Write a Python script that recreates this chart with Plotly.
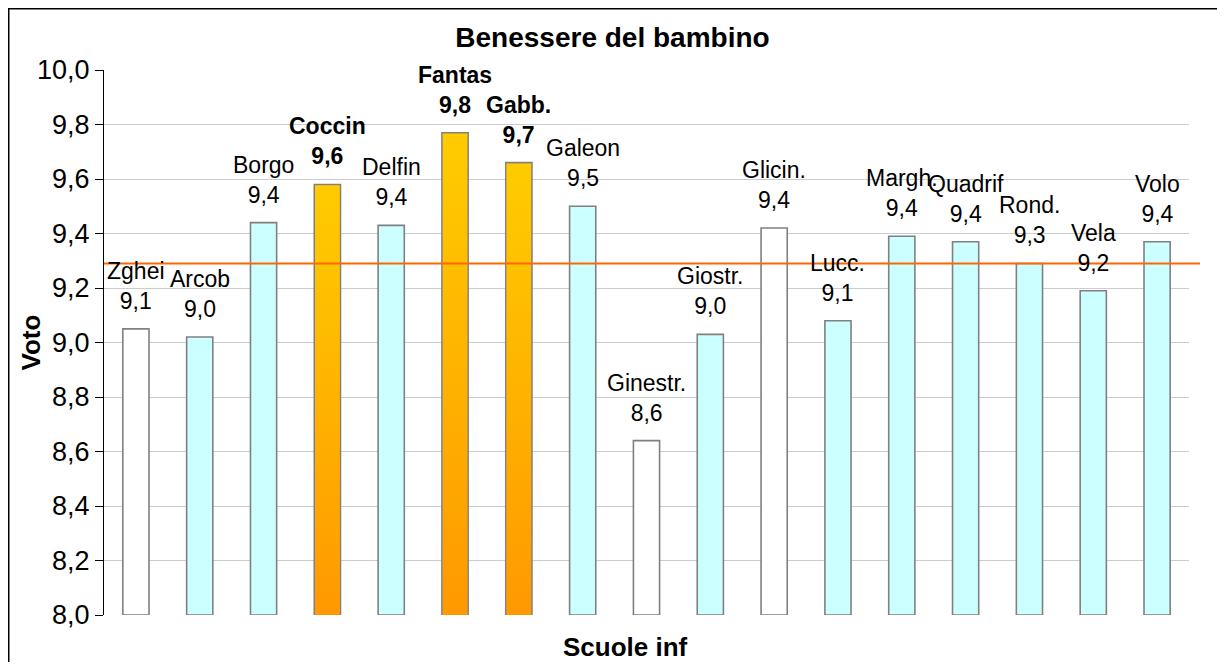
import plotly.graph_objects as go

schools = ["Zghei", "Arcob", "Borgo", "Coccin", "Delfin", "Fantas", "Gabb.", "Galeon",
           "Ginestr.", "Giostr.", "Glicin.", "Lucc.", "Margh.", "Quadrif", "Rond.", "Vela", "Volo"]
scores = [9.05, 9.02, 9.44, 9.58, 9.43, 9.77, 9.66, 9.50,
          8.64, 9.03, 9.42, 9.08, 9.39, 9.37, 9.29, 9.19, 9.37]
groups = ["white", "cyan", "cyan", "top", "cyan", "top", "top", "cyan",
          "white", "cyan", "white", "cyan", "cyan", "cyan", "cyan", "cyan", "cyan"]
average = 9.29
y_ticks = [8.0, 8.2, 8.4, 8.6, 8.8, 9.0, 9.2, 9.4, 9.6, 9.8, 10.0]
y_min, y_max = 8.0, 10.0

fill_map = {"white": "#FFFFFF", "cyan": "#CCFFFF", "top": "#FFB000"}
FONT = "Liberation Sans, Arial, sans-serif"
BAR_W = 0.41

# figure geometry (page body adds 8px margin)
W, H = 1209, 654
L, T = 96, 62
PW, PH = 1085, 545
R, B = W - L - PW, H - T - PH

def px_x(px):
    return (px - L) / PW

def px_y(py):
    return (T + PH - py) / PH

xs = list(range(len(schools)))
fig = go.Figure()
fig.add_trace(go.Bar(
    x=xs, y=[v - y_min for v in scores], base=y_min, width=BAR_W,
    marker=dict(color=[fill_map[g] for g in groups], line=dict(color="#808080", width=1.6)),
    hoverinfo="skip", showlegend=False,
))

# gradient overlay for the top schools
for i, (v, g) in enumerate(zip(scores, groups)):
    if g != "top":
        continue
    h = BAR_W / 2 - 0.013
    fig.add_trace(go.Scatter(
        x=[i - h, i + h, i + h, i - h, i - h],
        y=[y_min, y_min, v - 0.004, v - 0.004, y_min],
        mode="lines", line=dict(width=0), fill="toself",
        fillgradient=dict(type="vertical", colorscale=[[0, "#FF9900"], [1, "#FFCC00"]]),
        hoverinfo="skip", showlegend=False,
    ))

# labels
for i, (name, v, g) in enumerate(zip(schools, scores, groups)):
    val = f"{v:.1f}".replace(".", ",")
    txt = f"<b>{name}</b><br><b>{val}</b>" if g == "top" else f"{name}<br>{val}"
    fig.add_annotation(x=i, y=v, text=txt, showarrow=False, yanchor="bottom",
                       yshift=13, font=dict(family=FONT, size=23, color="#000000"),
                       align="center")

fig.add_shape(type="line", xref="paper", yref="y", x0=0, x1=px_x(1192), y0=average, y1=average,
              line=dict(color="#FF6600", width=2))

# outer frame
fig.add_shape(type="rect", xref="paper", yref="paper",
              x0=px_x(0.75), x1=px_x(W + 10),
              y0=px_y(H + 10), y1=px_y(0.75),
              line=dict(color="#000000", width=1.5), fillcolor="rgba(0,0,0,0)", layer="below")

# axis titles
fig.add_annotation(xref="paper", yref="paper", x=px_x(617), y=px_y(639),
                   text="<b>Scuole inf</b>", showarrow=False, xanchor="center", yanchor="middle",
                   font=dict(family=FONT, size=26, color="#000000"))
fig.add_annotation(xref="paper", yref="paper", x=px_x(22), y=0.5,
                   text="<b>Voto</b>", showarrow=False, textangle=-90,
                   xanchor="center", yanchor="middle",
                   font=dict(family=FONT, size=26, color="#000000"))

fig.update_layout(
    width=W, height=H, autosize=False,
    margin=dict(l=L, r=R, t=T, b=B, pad=0),
    paper_bgcolor="#FFFFFF", plot_bgcolor="#FFFFFF",
    title=dict(text="<b>Benessere del bambino</b>", x=0.5, xref="container", xanchor="center",
               y=1 - 29 / H, yref="container", yanchor="middle",
               font=dict(family=FONT, size=28, color="#000000")),
    font=dict(family=FONT, color="#000000"),
    hovermode=False,
)
fig.update_xaxes(range=[-0.5, len(schools) - 0.5], showticklabels=False, showgrid=False,
                 zeroline=False, showline=False, ticks="")
fig.update_yaxes(range=[y_min, y_max], tickvals=y_ticks,
                 ticktext=[f"{t:.1f}".replace(".", ",") for t in y_ticks],
                 tickfont=dict(family=FONT, size=27), showgrid=True, gridcolor="#CCCCCC", gridwidth=1,
                 zeroline=False, showline=True, linecolor="#000000", linewidth=1,
                 ticks="outside", ticklen=8, tickcolor="#000000")

fig.write_html("out.html")
